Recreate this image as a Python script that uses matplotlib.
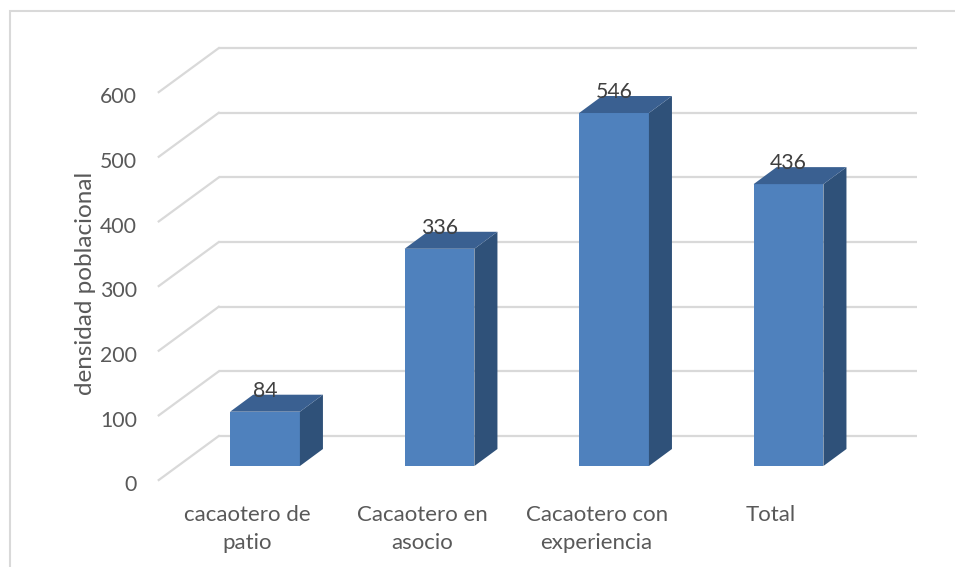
import matplotlib
matplotlib.use("Agg")
import matplotlib.pyplot as plt
from matplotlib.patches import Polygon, Rectangle

plt.rcParams['font.family'] = ['Lato', 'DejaVu Sans']

categories = ["cacaotero de\npatio", "Cacaotero en\nasocio", "Cacaotero con\nexperiencia", "Total"]
values = [84, 336, 546, 436]
y_ticks = [0, 100, 200, 300, 400, 500, 600]
y_label = "densidad poblacional"

# pseudo-3D geometry (data units)
BAR_W = 0.40
DEPTH_X, DEPTH_Y = 0.132, 26.3      # bar depth offset
WALL_X, WALL_Y = 0.235, 46.4        # back wall offset from bar front plane
FLOOR_X, FLOOR_Y = -0.109, -21.7    # floor front edge offset
X_LEFT, X_RIGHT = -0.5, 3.5

FRONT = "#4F81BD"
SIDE = "#2F5179"
TOP = "#3A6091"
GRID = "#D9D9D9"
TXT = "#595959"

fig = plt.figure(figsize=(9.55, 5.67), dpi=100)
ax = fig.add_axes([0, 0, 1, 1])
ax.set_xlim(-1.5186, 3.954)
ax.set_ylim(-156.2, 720.8)
ax.axis("off")

# outer chart border
fig.patches.append(Rectangle((10 / 955, -0.05), 1.1, 1 - 11 / 567 + 0.05,
                             transform=fig.transFigure, fill=False,
                             edgecolor="#D9D9D9", linewidth=1.5))

# gridlines on back wall + side wall diagonals
for v in y_ticks:
    ax.plot([X_LEFT + WALL_X, X_RIGHT + WALL_X], [v + WALL_Y, v + WALL_Y],
            color=GRID, lw=1.6, zorder=1, solid_capstyle="butt")
    ax.plot([X_LEFT + FLOOR_X, X_LEFT + WALL_X], [v + FLOOR_Y, v + WALL_Y],
            color=GRID, lw=1.6, zorder=1)
    ax.text(X_LEFT + FLOOR_X - 0.125, v + FLOOR_Y - 8, str(v), ha="right", va="center",
            fontsize=15.3, color=TXT)

xs = list(range(len(values)))
ax.bar(xs, values, width=BAR_W, color=FRONT, zorder=3, linewidth=0)
for x, v in zip(xs, values):
    l, r = x - BAR_W / 2, x + BAR_W / 2
    side = Polygon([(r, 0), (r + DEPTH_X, DEPTH_Y), (r + DEPTH_X, v + DEPTH_Y), (r, v)],
                   closed=True, facecolor=SIDE, edgecolor="none", zorder=3)
    top = Polygon([(l, v), (r, v), (r + DEPTH_X, v + DEPTH_Y), (l + DEPTH_X, v + DEPTH_Y)],
                  closed=True, facecolor=TOP, edgecolor="none", zorder=3)
    ax.add_patch(side)
    ax.add_patch(top)
    ax.text(x, v + 32, str(v), ha="center", va="center", fontsize=15.3,
            color="#404040", zorder=4)

for x, c in zip(xs, categories):
    ax.text(x - 0.1, -61, c, ha="center", va="top", fontsize=16, color=TXT,
            linespacing=1.5)

ax.text(-1.0315, 283, y_label, rotation=90, ha="center", va="center",
        fontsize=17.5, color=TXT)

fig.savefig("out.png", dpi=100)
